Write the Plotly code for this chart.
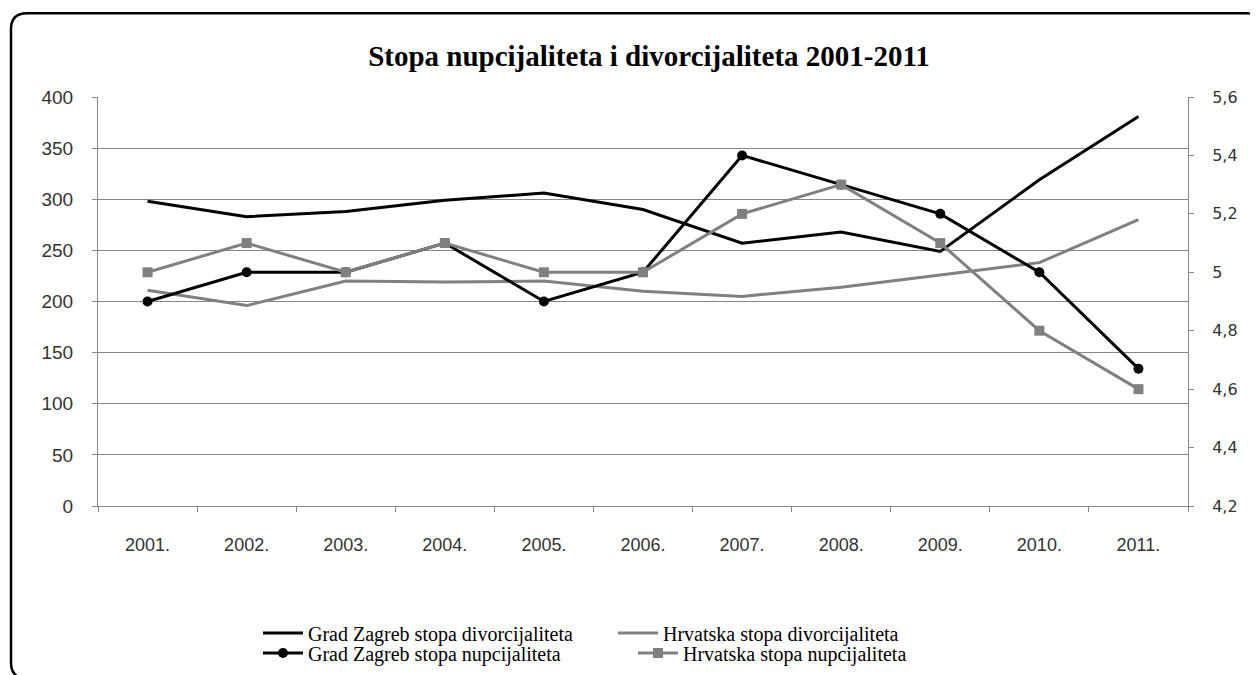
import plotly.graph_objects as go

years = ["2001.", "2002.", "2003.", "2004.", "2005.", "2006.", "2007.", "2008.", "2009.", "2010.", "2011."]

zg_divorce = [298, 283, 288, 299, 306, 290, 257, 268, 249, 319, 381]
hr_divorce = [211, 196, 220, 219, 220, 210, 205, 214, 226, 238, 280]
zg_marriage = [4.9, 5.0, 5.0, 5.1, 4.9, 5.0, 5.4, 5.3, 5.2, 5.0, 4.67]
hr_marriage = [5.0, 5.1, 5.0, 5.1, 5.0, 5.0, 5.2, 5.3, 5.1, 4.8, 4.6]

left_ticks = [0, 50, 100, 150, 200, 250, 300, 350, 400]
right_ticks = [4.2, 4.4, 4.6, 4.8, 5.0, 5.2, 5.4, 5.6]
right_labels = ["4,2", "4,4", "4,6", "4,8", "5", "5,2", "5,4", "5,6"]

names = [
    "Grad Zagreb stopa divorcijaliteta",
    "Hrvatska stopa divorcijaliteta",
    "Grad Zagreb stopa nupcijaliteta",
    "Hrvatska stopa nupcijaliteta",
]

W, H = 1258, 675
OFF = 8  # page body margin offset
L, R, T, B = 98 - OFF, 1188 - OFF, 97 - OFF, 507 - OFF  # plot area in figure px


def px(x):
    # x in screen px -> paper
    return (x - OFF - L) / (R - L)


def py(y):
    return (B - (y - OFF)) / (B - T)


BLACK = "#000000"
GRAY = "#808080"

fig = go.Figure()
fig.add_trace(go.Scatter(x=years, y=zg_divorce, name=names[0], mode="lines",
                         line=dict(color=BLACK, width=3), legend="legend"))
fig.add_trace(go.Scatter(x=years, y=hr_divorce, name=names[1], mode="lines",
                         line=dict(color=GRAY, width=3), legend="legend"))
fig.add_trace(go.Scatter(x=years, y=zg_marriage, name=names[2], mode="lines+markers",
                         line=dict(color=BLACK, width=3),
                         marker=dict(symbol="circle", size=10, color=BLACK),
                         yaxis="y2", legend="legend2"))
fig.add_trace(go.Scatter(x=years, y=hr_marriage, name=names[3], mode="lines+markers",
                         line=dict(color=GRAY, width=3),
                         marker=dict(symbol="square", size=10, color=GRAY),
                         yaxis="y2", legend="legend2"))

# rounded outer frame (screen px converted to paper coordinates)
x0, y0, x1, y1, r = 11, 13, 1262, 680, 16
frame = (
    f"M {px(x0)},{py(y0 + r)} "
    f"Q {px(x0)},{py(y0)} {px(x0 + r)},{py(y0)} "
    f"L {px(x1 - r)},{py(y0)} "
    f"Q {px(x1)},{py(y0)} {px(x1)},{py(y0 + r)} "
    f"L {px(x1)},{py(y1 - r)} "
    f"Q {px(x1)},{py(y1)} {px(x1 - r)},{py(y1)} "
    f"L {px(x0 + r)},{py(y1)} "
    f"Q {px(x0)},{py(y1)} {px(x0)},{py(y1 - r)} Z"
)

axis_gray = "#868686"
legend_font = dict(family="Liberation Serif", size=20, color="#000000")

fig.update_layout(
    width=W, height=H,
    margin=dict(l=L, r=W - R, t=T, b=H - B),
    paper_bgcolor="white", plot_bgcolor="white",
    showlegend=True,
    title=dict(text="<b>Stopa nupcijaliteta i divorcijaliteta 2001-2011</b>",
               x=(649 - OFF) / W, xanchor="center", xref="container",
               y=1 - (56 - OFF) / H, yanchor="middle", yref="container",
               font=dict(family="Liberation Serif", size=29, color="#000000")),
    xaxis=dict(type="category", range=[-0.5, 10.5],
               showline=True, linecolor=axis_gray, linewidth=1,
               ticks="outside", tickson="boundaries", ticklen=5, tickcolor=axis_gray,
               showgrid=False, zeroline=False,
               tickfont=dict(family="Liberation Sans", size=18, color="#333333"),
               ticklabelstandoff=22),
    yaxis=dict(range=[0, 400], tickvals=left_ticks,
               showline=True, linecolor=axis_gray, linewidth=1,
               ticks="outside", ticklen=5, tickcolor=axis_gray,
               showgrid=True, gridcolor=axis_gray, gridwidth=1, zeroline=False,
               tickfont=dict(family="Liberation Sans", size=19, color="#333333"),
               ticklabelstandoff=15),
    yaxis2=dict(range=[4.2, 5.6], tickvals=right_ticks, ticktext=right_labels,
                overlaying="y", side="right",
                showline=True, linecolor=axis_gray, linewidth=1,
                ticks="outside", ticklen=5, tickcolor=axis_gray,
                showgrid=False, zeroline=False,
                tickfont=dict(family="DejaVu Sans", size=16, color="#333333"),
                ticklabelstandoff=15),
    legend=dict(orientation="h", x=px(258), xanchor="left",
                y=py(633), yanchor="middle", font=legend_font,
                bgcolor="rgba(0,0,0,0)", itemwidth=40, traceorder="normal",
                entrywidth=300, entrywidthmode="pixels"),
    legend2=dict(orientation="h", x=px(258), xanchor="left",
                 y=py(653), yanchor="middle", font=legend_font,
                 bgcolor="rgba(0,0,0,0)", itemwidth=40, traceorder="normal",
                 entrywidth=320, entrywidthmode="pixels"),
    shapes=[dict(type="path", path=frame, xref="paper", yref="paper",
                 line=dict(color="#000000", width=2.5), layer="above")],
)

fig.write_html("out.html")
